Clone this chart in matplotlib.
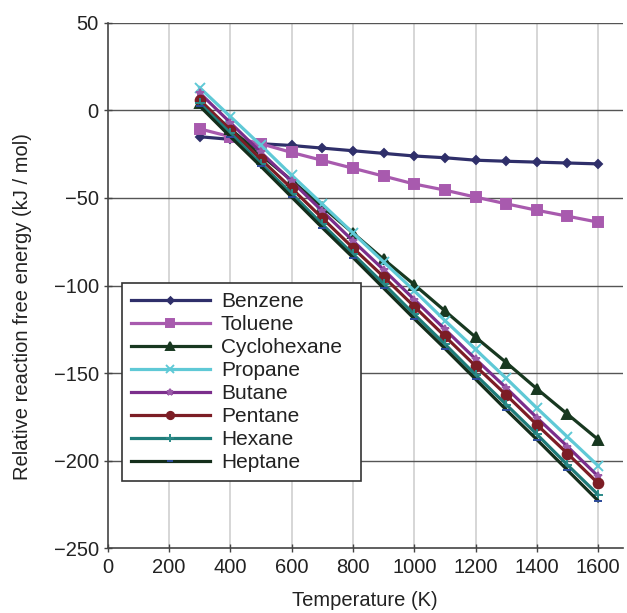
import matplotlib
matplotlib.use("Agg")
import matplotlib.pyplot as plt

plt.rcParams['font.family'] = ['Liberation Sans', 'DejaVu Sans']

# temperatures (K)
temps = [300, 400, 500, 600, 700, 800, 900, 1000, 1100, 1200, 1300, 1400, 1500, 1600]

# relative reaction free energy (kJ/mol)
benzene = [-15, -16.5, -19, -20, -21.5, -23, -24.5, -26, -27, -28.4, -29, -29.5, -30, -30.5]
toluene = [-10.5, -15, -19, -24, -28.5, -33, -37.5, -42, -45.5, -49.5, -53.3, -57, -60.4, -63.8]
cyclohexane = [4, -10.5, -25.5, -40, -55, -70, -85, -99.5, -114.5, -129.5, -144, -159, -173.5, -188]
propane = [13, -3.5, -20, -37, -53.5, -70, -86.5, -103, -120, -136.5, -153, -170, -186.5, -203]
butane = [10, -7, -24, -40.5, -57.5, -74.5, -91, -108, -125, -142, -158.5, -175.5, -192, -209]
pentane = [6, -11, -28, -44.5, -61.5, -78.5, -95, -112, -129, -146, -162.5, -179.5, -196, -213]
hexane = [4, -13, -30.5, -47.5, -65, -82, -99, -116.5, -133.5, -151, -168, -185, -202.5, -219.5]
heptane = [2.5, -15, -32, -49.5, -67, -84, -101.5, -119, -136, -153.5, -171, -188, -205.5, -223]

names = ['Benzene', 'Toluene', 'Cyclohexane', 'Propane', 'Butane', 'Pentane', 'Hexane', 'Heptane']
series = [benzene, toluene, cyclohexane, propane, butane, pentane, hexane, heptane]
colors = ['#2f2f6a', '#a85aae', '#183820', '#5fc9d6', '#7b2e8c', '#7c1d25', '#1f7c7a', '#142e1b']
markers = ['D', 's', '^', 'x', '*', 'o', '+', '_']
msizes = [4.5, 7, 7, 7, 6, 7, 7, 6]
mcolors = ['#2f2f6a', '#a85aae', '#183820', '#5fc9d6', '#9a5aa8', '#7c1d25', '#2a8a88', '#2c4a9a']

fig = plt.figure(figsize=(6.27, 6.13), dpi=100)
ax = fig.add_axes([0.172, 0.106, 0.821, 0.8565])

for y, name, c, m, ms, mc in zip(series, names, colors, markers, msizes, mcolors):
    ax.plot(temps, y, color=c, lw=2.3, marker=m, markersize=ms,
            markerfacecolor=mc, markeredgecolor=mc, markeredgewidth=1.4, label=name)

ax.set_xlim(0, 1680)
ax.set_ylim(-250, 50)
ax.set_xticks(range(0, 1601, 200))
ax.set_yticks(range(-250, 51, 50))
ax.set_yticklabels(['\u2212250', '\u2212200', '\u2212150', '\u2212100', '\u221250', '0', '50'])

for v in range(200, 1601, 200):
    ax.axvline(v, color='#d0d0d0', lw=1.2, zorder=0)
for v in range(-200, 51, 50):
    ax.axhline(v, color='#555555', lw=1.0, zorder=0)

for s in ['top', 'right']:
    ax.spines[s].set_visible(False)
for s in ['left', 'bottom']:
    ax.spines[s].set_color('#444444')
    ax.spines[s].set_linewidth(1.2)

ax.tick_params(axis='both', labelsize=14.5, color='#444444', length=6, width=1.0,
               direction='inout', labelcolor='#222222')
ax.tick_params(axis='x', pad=4)
ax.set_xlabel('Temperature (K)', fontsize=14.5, color='#222222', labelpad=10)
ax.set_ylabel('Relative reaction free energy (kJ / mol)', fontsize=14.5, color='#222222')
ax.yaxis.set_label_coords(-0.148, 0.46)

# legend box stretched to a fixed width, entries left aligned
lx0, ly1, lx1 = 122 / 627, 1 - 283 / 613, 361 / 627
leg = ax.legend(loc='upper left', bbox_to_anchor=(lx0, ly1 - 0.3, lx1 - lx0, 0.3),
                bbox_transform=fig.transFigure, mode='expand', borderaxespad=0, fontsize=15,
                handlelength=3.75, labelspacing=0.19, fancybox=False, framealpha=1,
                edgecolor='#333333', handletextpad=0.55, borderpad=0.45, markerscale=0.75)
leg.get_frame().set_linewidth(1.2)
for t in leg.get_texts():
    t.set_color('#222222')

fig.savefig('out.png', dpi=100)
